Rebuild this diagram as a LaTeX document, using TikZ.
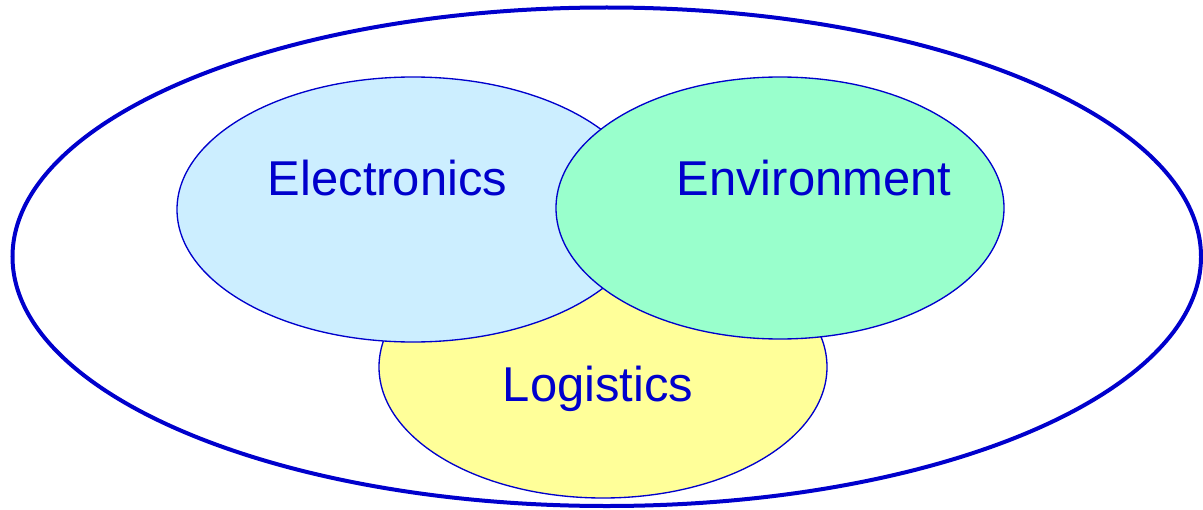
\documentclass[tikz,border=0pt]{standalone}
\usepackage{fontspec}
\setmainfont{Liberation Sans}
\definecolor{dblue}{HTML}{0000CC}
\definecolor{eblue}{HTML}{CCEEFF}
\definecolor{egreen}{HTML}{99FFCC}
\definecolor{lyellow}{HTML}{FFFF99}
\begin{document}
\begin{tikzpicture}[x=0.75pt,y=-0.75pt,
  setbox/.style={draw=dblue, line width=1pt},
  lbl/.style={text=dblue, font=\fontsize{36.7pt}{40pt}\selectfont, anchor=base, inner sep=0pt}]
\useasboundingbox (0,0) rectangle (1203,510);
\draw[dblue, line width=3pt] (606.75,256.75) ellipse [x radius=594.25, y radius=249.25];
\draw[setbox, fill=lyellow] (603,367) ellipse [x radius=224, y radius=131];
\draw[setbox, fill=eblue] (413,209.5) ellipse [x radius=236, y radius=132.5];
\draw[setbox, fill=egreen] (780,208) ellipse [x radius=224, y radius=131];
\node[lbl] (elec) at (387.5,195) {Electronics};
\node[lbl] (env) at (814,195) {Environment};
\node[lbl] (log) at (598,401) {Logistics};
\end{tikzpicture}
\end{document}
